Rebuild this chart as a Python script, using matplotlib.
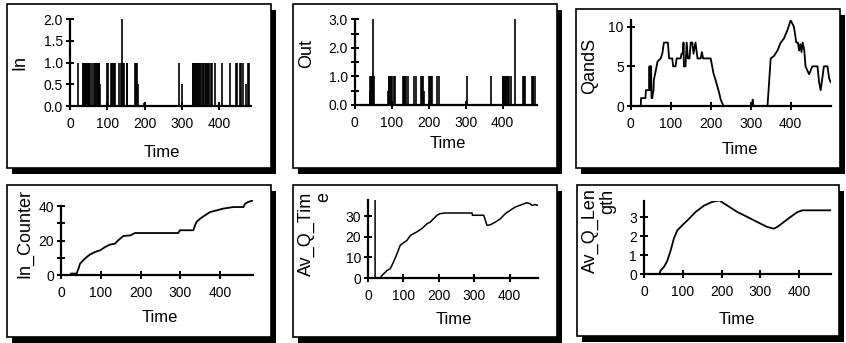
import matplotlib
matplotlib.use("Agg")
import matplotlib.pyplot as plt
from matplotlib.patches import Rectangle

plt.rcParams['font.family'] = ['Liberation Sans', 'DejaVu Sans']

# ---- data ----
in_times = [22, 34, 36, 38, 40, 42, 44, 46, 48, 50, 52, 54, 58, 64, 67, 70, 72, 75, 77, 79, 81,
            100, 102, 110, 112, 114, 117, 119, 122, 132, 136, 140, 143, 145, 152, 154,
            174, 176, 179, 183, 199, 293, 300, 329, 331, 333, 336, 338, 340, 343, 347, 350,
            353, 356, 358, 362, 364, 367, 370, 373, 378, 382, 389, 407, 430, 445, 447,
            457, 459, 465, 472, 479, 481]
in_vals = [1, 1, 1, 1, 1, 1, 1, 1, 1, 1, 1, 1, 1, 1, 1, 1, 1, 1, 1, 1, 0.5,
           1, 1, 1, 1, 1, 1, 1, 1, 1, 1, 2, 1, 1, 1, 1,
           1, 1, 1, 0.5, 0.08, 1, 0.5, 1, 1, 1, 1, 1, 1, 1, 1, 1,
           1, 1, 1, 1, 1, 1, 1, 1, 1, 1, 1, 1, 1, 1, 1,
           1, 1, 1, 0.5, 1, 1]

out_times = [40, 42, 44, 46, 48, 50, 51, 90, 92, 94, 97, 99, 101, 105, 108, 130, 132, 134,
             137, 139, 144, 161, 166, 180, 182, 184, 188, 200, 203, 205, 209, 223, 227,
             304, 369, 400, 402, 404, 407, 409, 411, 414, 418, 422, 432, 454, 457, 459,
             479, 481, 483, 486]
out_vals = [0.5, 1, 1, 1, 1, 3, 1, 0.5, 1, 1, 1, 1, 1, 1, 1, 1, 1, 1,
            1, 1, 1, 1, 1, 1, 1, 1, 0.5, 1, 1, 1, 1, 1, 1,
            1, 1, 1, 1, 1, 1, 1, 1, 1, 1, 1, 3, 1, 1, 1,
            1, 1, 1, 1]

qs_t = [0, 25, 26, 37, 38, 46, 47, 48, 49, 50, 51, 52, 54, 57, 58, 62, 67, 75, 79, 83, 93,
        96, 104, 106, 112, 115, 125, 127, 131, 132, 133, 137, 140, 143, 147, 150, 154, 157,
        162, 167, 175, 178, 181, 183, 200, 207, 212, 217, 221, 225, 232, 303, 305, 307,
        342, 346, 350, 358, 367, 375, 383, 392, 400, 408, 414, 418, 421, 424, 427, 430,
        434, 437, 446, 454, 467, 471, 475, 479, 483, 492, 496, 500]
qs_v = [0, 0, 1, 1, 2, 2, 5, 2, 5, 2, 5, 1, 1, 2, 3.3, 4.3, 5.6, 6, 6.6, 8, 8,
        6, 6, 5, 5, 6, 6, 6.6, 6.6, 8, 5, 5, 8, 6, 6, 8, 8, 6.6,
        8, 6, 6, 6.8, 6, 6, 6, 4.1, 3.3, 2.4, 1.7, 0.8, 0, 0, 0.8, 0,
        0, 3, 6, 6.3, 7, 8, 8.5, 9.6, 10.8, 10, 8, 8, 7, 7.8, 6.8, 8,
        7, 5, 4, 5, 5, 3, 2, 3.5, 5, 5, 3.5, 3]

cnt_t = [0, 23, 25, 39, 44, 48, 56, 65, 73, 86, 98, 111, 123, 136, 144, 157, 174, 186, 295,
         299, 333, 337, 341, 350, 362, 375, 392, 408, 434, 459, 463, 471, 484]
cnt_v = [0, 0, 1, 1, 3.8, 6.7, 8.7, 10.6, 12, 13.5, 14.4, 16.3, 17.7, 18.3, 20.2, 22.7, 23, 24.4, 24.4,
         26, 26, 28.8, 30.8, 32.7, 34.6, 36.5, 37.5, 38.5, 39.4, 39.4, 41.3, 42.3, 43.3]

aqt_t = [20, 20, 35, 40, 54, 63, 72, 82, 91, 101, 110, 120, 129, 138, 152, 167, 176, 185, 195,
         204, 218, 294, 295, 327, 336, 346, 360, 374, 388, 402, 416, 435, 449, 458, 463, 473, 480]
aqt_v = [37.8, 0, 0, 1.3, 3.7, 4.5, 7.8, 11.8, 15.9, 17.2, 18.3, 20.7, 21.6, 22.4, 24, 26.4, 27.2, 28.8, 30.5,
         31.3, 31.6, 31.6, 30.5, 30.5, 25.6, 25.9, 27.2, 28.8, 31.3, 32.9, 34.5, 35.7, 36.6, 36.1, 35.3, 35.7, 35.3]

aql_t = [39, 43, 52, 60, 69, 77, 86, 99, 116, 133, 155, 176, 194, 198, 215, 241, 267, 292, 318,
         335, 344, 361, 378, 396, 409, 422, 482]
aql_v = [0, 0.2, 0.4, 0.7, 1.26, 1.87, 2.3, 2.57, 2.9, 3.26, 3.6, 3.79, 3.87, 3.82, 3.6, 3.26, 3.0, 2.74, 2.48,
         2.39, 2.48, 2.74, 3.0, 3.26, 3.35, 3.35, 3.35]

W, H = 846, 343
fig = plt.figure(figsize=(W / 100, H / 100), dpi=100)


def fx(x):
    return x / W


def fy(y):
    return 1 - y / H


def panel_box(l, t, r, b):
    # drop shadow then white box
    fig.patches.append(Rectangle((fx(l + 5), fy(b + 6)), (r - l) / W, (b - t) / H,
                                 transform=fig.transFigure, facecolor='black',
                                 edgecolor='none', zorder=-6))
    fig.patches.append(Rectangle((fx(l), fy(b)), (r - l) / W, (b - t) / H,
                                 transform=fig.transFigure, facecolor='white',
                                 edgecolor='black', lw=1.2, zorder=-5))


def make_ax(x0, y0, xmax, xs, ymax, ys):
    ax = fig.add_axes([fx(x0), fy(y0), xmax * xs / W, ymax * ys / H])
    ax.set_xlim(0, xmax)
    ax.set_ylim(0, ymax)
    ax.patch.set_visible(False)
    for s in ['top', 'right']:
        ax.spines[s].set_visible(False)
    for s in ['left', 'bottom']:
        ax.spines[s].set_linewidth(1.6)
    ax.tick_params(direction='inout', length=6, width=1.4, labelsize=10, pad=2)
    ax.tick_params(axis='x', pad=5)
    ax.tick_params(which='minor', direction='inout', length=6, width=1.4)
    ax.set_xticks([0, 100, 200, 300, 400])
    return ax


# boxes
panel_box(7, 4, 271, 168)
panel_box(293, 4, 557, 168)
panel_box(576, 9, 840, 168)
panel_box(7, 185, 271, 337)
panel_box(293, 185, 557, 337)
panel_box(577, 185, 839, 336)

#==============================================================================
ax1 = make_ax(70, 106, 485, 0.3725, 2.0, 43.35)
ax1.vlines(in_times, 0, in_vals, color='black', lw=1.2)
ax1.set_yticks([0, 0.5, 1.0, 1.5, 2.0])
ax1.set_yticklabels(['0.0', '0.5', '1.0', '1.5', '2.0'])

ax2 = make_ax(354.7, 105, 492, 0.37, 3.0, 28.57)
ax2.vlines(out_times, 0, out_vals, color='black', lw=1.2)
ax2.set_yticks([0, 1, 2, 3])
ax2.set_yticklabels(['0.0', '1.0', '2.0', '3.0'])
ax2.set_yticks([0.5, 1.5, 2.5], minor=True)

ax3 = make_ax(630.7, 106, 500, 0.4, 10.85, 7.93)
ax3.plot(qs_t, qs_v, color='black', lw=1.3)
ax3.set_yticks([0, 5, 10])

ax4 = make_ax(61, 275.3, 483, 0.3975, 43.5, 1.7325)
ax4.plot(cnt_t, cnt_v, color='black', lw=1.3)
ax4.set_yticks([0, 20, 40])
ax4.set_yticks([10, 30], minor=True)
ax4.spines['left'].set_bounds(0, 40)

ax5 = make_ax(368, 278, 480, 0.354, 37.8, 2.057)
ax5.plot(aqt_t, aqt_v, color='black', lw=1.1)
ax5.set_yticks([0, 10, 20, 30])

ax6 = make_ax(644, 274.3, 482, 0.3875, 3.82, 19.1)
ax6.plot(aql_t, aql_v, color='black', lw=1.3)
ax6.set_yticks([0, 1, 2, 3])

# axis labels placed by pixel
ylab = dict(rotation=90, ha='center', va='center', fontsize=13)
fig.text(fx(20), fy(62), 'In', **ylab)
fig.text(fx(307), fy(53), 'Out', **ylab)
fig.text(fx(590), fy(66), 'QandS', **ylab)
fig.text(fx(25), fy(233), 'In_Counter', **ylab)
# wrapped labels: second line sits to the right, aligned at the top
fig.text(fx(315), fy(234), 'Av_Q_Tim\ne', multialignment='right', linespacing=0.95, **ylab)
fig.text(fx(599), fy(231), 'Av_Q_Len\ngth', multialignment='right', linespacing=0.95, **ylab)

xlab = dict(ha='center', va='center', fontsize=12)
for x, y in [(162, 153), (448, 143), (740, 149), (160, 318), (454, 319.5), (737, 319.5)]:
    fig.text(fx(x), fy(y), 'Time', **xlab)

fig.savefig('out.png', dpi=100)
